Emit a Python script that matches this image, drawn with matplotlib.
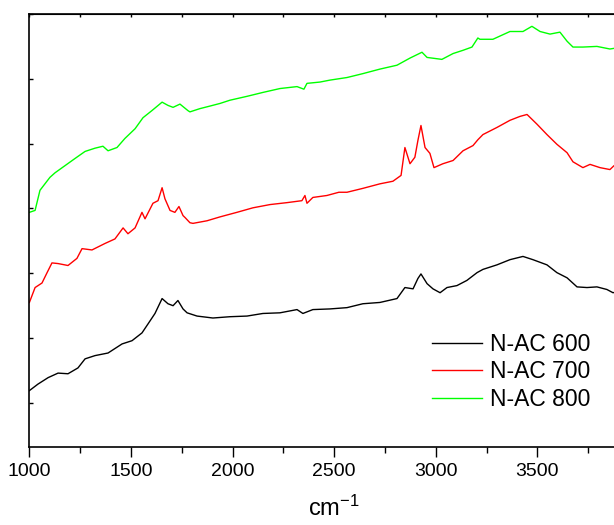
"""FTIR spectra of N-AC 600/700/800, stacked with vertical offsets."""
import matplotlib
matplotlib.use("Agg")
import matplotlib.pyplot as plt

plt.rcParams["font.family"] = ["Liberation Sans", "DejaVu Sans"]
plt.rcParams["mathtext.default"] = "regular"

# wavenumber (cm-1) and offset intensity (a.u., one y-tick = 1 unit)
wn_600 = [1000, 1042, 1092, 1141, 1190, 1239, 1274, 1323, 1387, 1456, 1505, 1554,
          1584, 1618, 1653, 1682, 1707, 1731, 1756, 1776, 1825, 1903, 1987, 2071,
          2149, 2233, 2317, 2346, 2395, 2479, 2563, 2641, 2725, 2809, 2848, 2888,
          2912, 2927, 2957, 2986, 3021, 3055, 3104, 3153, 3203, 3232, 3301, 3365,
          3429, 3478, 3547, 3596, 3646, 3695, 3744, 3793, 3842, 3872, 3900]
ac_600 = [0.19, 0.29, 0.39, 0.46, 0.45, 0.54, 0.68, 0.73, 0.77, 0.91, 0.96, 1.08,
          1.22, 1.38, 1.61, 1.53, 1.50, 1.58, 1.45, 1.39, 1.34, 1.31, 1.33, 1.34,
          1.38, 1.39, 1.44, 1.38, 1.44, 1.45, 1.47, 1.53, 1.55, 1.61, 1.78, 1.76,
          1.92, 1.99, 1.84, 1.76, 1.70, 1.78, 1.81, 1.89, 2.01, 2.06, 2.13, 2.21,
          2.26, 2.21, 2.13, 2.01, 1.93, 1.79, 1.78, 1.79, 1.75, 1.70, 1.72]

wn_700 = [1000, 1028, 1062, 1087, 1111, 1141, 1190, 1234, 1259, 1308, 1372, 1421,
          1461, 1485, 1520, 1554, 1569, 1608, 1633, 1653, 1667, 1692, 1716, 1736,
          1756, 1766, 1790, 1805, 1874, 1938, 2021, 2100, 2184, 2268, 2341, 2356,
          2366, 2395, 2464, 2523, 2563, 2641, 2725, 2789, 2829, 2848, 2873, 2897,
          2912, 2927, 2947, 2971, 2991, 3035, 3085, 3134, 3183, 3207, 3232, 3301,
          3365, 3414, 3449, 3498, 3547, 3596, 3646, 3675, 3724, 3759, 3808, 3857,
          3877, 3900]
ac_700 = [1.55, 1.78, 1.85, 2.01, 2.16, 2.15, 2.12, 2.23, 2.38, 2.36, 2.46, 2.53,
          2.70, 2.61, 2.70, 2.94, 2.84, 3.08, 3.12, 3.32, 3.15, 2.97, 2.94, 3.03,
          2.89, 2.86, 2.78, 2.77, 2.81, 2.87, 2.94, 3.01, 3.06, 3.09, 3.12, 3.20,
          3.08, 3.17, 3.20, 3.25, 3.25, 3.31, 3.38, 3.42, 3.51, 3.94, 3.69, 3.79,
          4.05, 4.28, 3.94, 3.85, 3.63, 3.69, 3.74, 3.89, 3.97, 4.06, 4.14, 4.25,
          4.36, 4.42, 4.45, 4.30, 4.14, 3.99, 3.86, 3.72, 3.63, 3.68, 3.63, 3.60,
          3.66, 3.62]

wn_800 = [1000, 1028, 1052, 1101, 1126, 1175, 1224, 1274, 1323, 1362, 1387, 1431,
          1470, 1520, 1559, 1603, 1653, 1682, 1707, 1741, 1780, 1790, 1839, 1889,
          1938, 1987, 2071, 2149, 2233, 2317, 2351, 2366, 2430, 2479, 2563, 2641,
          2725, 2809, 2873, 2932, 2957, 3030, 3085, 3134, 3178, 3207, 3217, 3281,
          3365, 3429, 3473, 3513, 3562, 3611, 3646, 3675, 3724, 3793, 3857, 3877,
          3900]
ac_800 = [2.94, 2.97, 3.28, 3.48, 3.55, 3.66, 3.77, 3.88, 3.93, 3.96, 3.89, 3.94,
          4.08, 4.23, 4.40, 4.51, 4.64, 4.59, 4.56, 4.61, 4.51, 4.49, 4.54, 4.58,
          4.62, 4.67, 4.73, 4.79, 4.85, 4.88, 4.84, 4.93, 4.95, 4.98, 5.02, 5.08,
          5.15, 5.21, 5.32, 5.41, 5.33, 5.30, 5.39, 5.44, 5.49, 5.63, 5.61, 5.61,
          5.73, 5.73, 5.81, 5.73, 5.69, 5.72, 5.58, 5.49, 5.49, 5.50, 5.46, 5.47,
          5.48]

labels = ["N-AC 600", "N-AC 700", "N-AC 800"]
colors = ["black", "red", "#00ff00"]
x_ticks = [1000, 1500, 2000, 2500, 3000, 3500]

fig = plt.figure(figsize=(6.14, 5.25), dpi=100)
# axes run past the right edge of the figure, as in the cropped original
ax = fig.add_axes([29.4 / 614, 78 / 525, 609.6 / 614, 433 / 525])

for wn, ac, lab, col in zip([wn_600, wn_700, wn_800], [ac_600, ac_700, ac_800],
                            labels, colors):
    ax.plot(wn, ac, color=col, lw=1.0, label=lab)

ax.set_xlim(1000, 4000)
ax.set_ylim(-0.68, 6)
ax.set_xticks(x_ticks)
ax.set_xticks(range(1250, 4000, 500), minor=True)
ax.set_yticks(range(0, 7))
ax.set_yticklabels([])
ax.tick_params(axis="x", which="major", direction="out", length=7.5, width=1,
               labelsize=14, pad=4)
ax.tick_params(axis="x", which="minor", direction="out", length=4.5, width=1)
ax.tick_params(axis="y", direction="in", length=3, width=1)
for sp in ax.spines.values():
    sp.set_linewidth(1.2)

top = ax.secondary_xaxis("top")
top.set_xticks(x_ticks)
top.set_xticks(range(1250, 4000, 500), minor=True)
top.tick_params(which="both", direction="in", length=2, width=1, labeltop=False)
top.set_xticklabels([])

ax.set_xlabel("cm$^{-1}$", fontsize=17, labelpad=11)

ax.legend(loc="center left", bbox_to_anchor=(432 / 614, 1 - 372 / 525),
          bbox_transform=fig.transFigure, frameon=False, fontsize=16.5,
          handlelength=2.2, handletextpad=0.35, labelspacing=0.2,
          borderpad=0, borderaxespad=0)

fig.savefig("out.png", dpi=100)
